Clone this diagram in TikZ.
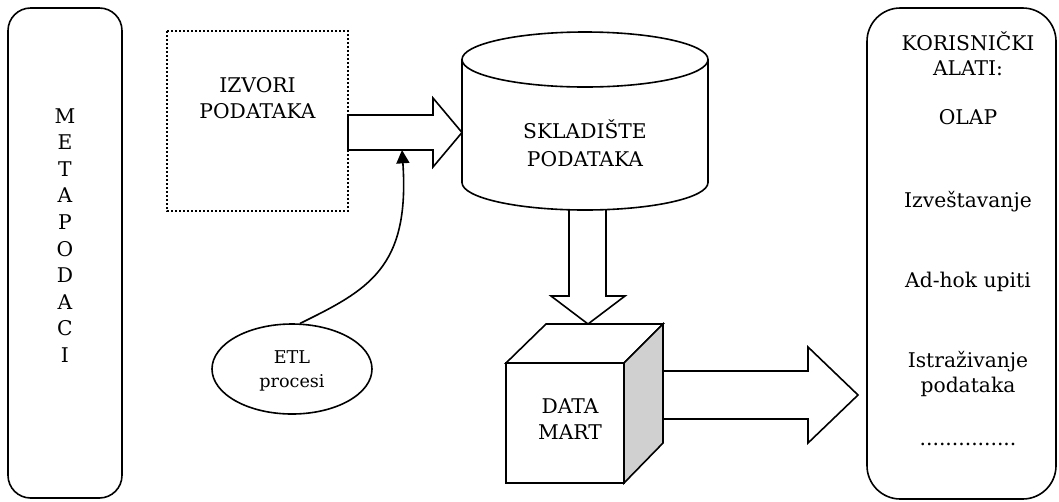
\documentclass[tikz,border=0pt]{standalone}
\usepackage{fontspec}
\setmainfont{DejaVu Serif}
\usetikzlibrary{arrows.meta,shapes.geometric}
\definecolor{sidegray}{RGB}{208,208,208}
\begin{document}
\begin{tikzpicture}[x=0.75pt,y=-0.75pt,line width=1.2pt,line join=miter,
  lbl/.style={font=\fontsize{15.2}{18}\selectfont,inner sep=0pt,anchor=base},
  small/.style={font=\fontsize{13.2}{15}\selectfont,inner sep=0pt,anchor=base},
  panel/.style={draw},
  blockarrow/.style={draw,fill=white},
  srcbox/.style={draw,line width=1.6pt,dash pattern=on 1.6pt off 1.4pt},
  thinarrow/.style={-{Triangle[width=9.75pt,length=10pt]}}]
\useasboundingbox (0,0) rectangle (1059,501);

% metadata panel on the left
\draw[panel,rounded corners=17pt] (8,8) rectangle (122,498);
\foreach \c [count=\i from 0] in {M,E,T,A,P,O,D,A,C,I}
  \node[lbl] (meta\i) at (65,{123+26.6*\i}) {\c};

% data sources
\draw[srcbox] (167,31) rectangle (348,211);
\node[lbl] (src1) at (257.5,92) {IZVORI};
\node[lbl] (src2) at (257.5,118) {PODATAKA};

% flow from sources into the warehouse
\draw[blockarrow] (348,115) -- (433,115) -- (433,98) -- (462,132.5)
  -- (433,167) -- (433,150) -- (348,150) -- cycle;

% flow from the warehouse down to the data mart
\draw[blockarrow] (569,200) -- (569,296) -- (551,296) -- (588,324)
  -- (625,296) -- (606,296) -- (606,200) -- cycle;

% data warehouse cylinder
\draw[fill=white] (462,59.5) -- (462,182.5)
  arc[start angle=180,end angle=0,x radius=123,y radius=27.5]
  -- (708,59.5);
\draw[fill=white] (585,59.5) ellipse[x radius=123,y radius=27.5];
\node[lbl] (dw1) at (585,138) {SKLADIŠTE};
\node[lbl] (dw2) at (585,166) {PODATAKA};

% flow from the data mart to the user tools
\draw[blockarrow] (655,371) -- (808,371) -- (808,347) -- (858,395)
  -- (808,443) -- (808,419) -- (655,419) -- cycle;

% data mart cube
\draw[fill=white] (506,363) -- (546,324) -- (663,324) -- (624,363) -- cycle;
\draw[fill=sidegray] (624,363) -- (663,324) -- (663,443) -- (624,483) -- cycle;
\draw[fill=white] (506,363) rectangle (624,483);
\node[lbl] (dm1) at (570,413) {DATA};
\node[lbl] (dm2) at (570,439) {MART};

% ETL processes feeding the load step
\node[draw,ellipse,minimum width=120pt,minimum height=67.5pt] (etl) at (292,369) {};
\node[small] (etl1) at (292,363) {ETL};
\node[small] (etl2) at (292,387) {procesi};
\coordinate (etltip) at (402,150);
\draw[thinarrow] (etl.80) .. controls (368,290) and (410,268) .. (etltip);

% user tools panel on the right
\draw[panel,rounded corners=25pt] (867,8) rectangle (1056,499);
\node[lbl] (ut1) at (968,50) {KORISNIČKI};
\node[lbl] (ut2) at (968,75) {ALATI:};
\node[lbl] (ut3) at (968,124) {OLAP};
\node[lbl] (ut4) at (968,207) {Izveštavanje};
\node[lbl] (ut5) at (968,287) {Ad-hok upiti};
\node[lbl] (ut6) at (968,367) {Istraživanje};
\node[lbl] (ut7) at (968,392) {podataka};
\node[lbl] (ut8) at (968,445) {...............};
\end{tikzpicture}
\end{document}
